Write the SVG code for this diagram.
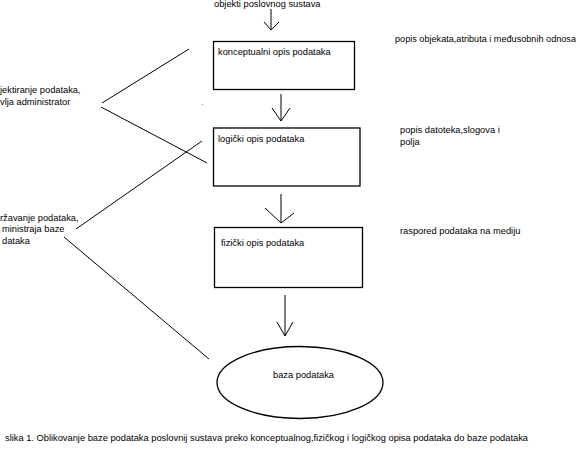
<svg xmlns="http://www.w3.org/2000/svg" width="580" height="464" viewBox="0 0 580 464">
<style>
text{font-family:"Liberation Sans",Arial,sans-serif;font-size:9.3px;fill:#000}
.box{fill:#fff;stroke:#000;stroke-width:1.3}
.ln{stroke:#000;stroke-width:1;fill:none}
</style>
<rect width="580" height="464" fill="#fff"/>
<text x="214" y="6.5">objekti poslovnog sustava</text>
<g id="connectors">
<path class="ln" d="M271 9V30M264 22L271 30L279 22"/>
<path class="ln" d="M281 94V121M272 108L281 121L290 108"/>
<path class="ln" d="M281 194V223M265 208L281 223L294 213"/>
<path class="ln" d="M285 295V336M277 322L285 336L293 322"/>
<path class="ln" d="M189 49L102 103M101 107L207 163"/>
<path class="ln" d="M202 141L76 229M64 237L209 359"/>
</g>
<rect x="202" y="104" width="1" height="1" fill="#888"/>
<g id="konceptualni">
<rect class="box" x="213.5" y="41.5" width="141" height="48"/>
<text x="218" y="55">konceptualni opis podataka</text>
</g>
<g id="logicki">
<rect class="box" x="213.5" y="128" width="146.5" height="58"/>
<text x="218" y="142">logički opis podataka</text>
</g>
<g id="fizicki">
<rect class="box" x="214.5" y="227.5" width="148" height="60"/>
<text x="221" y="246">fizički opis podataka</text>
</g>
<g id="baza">
<ellipse class="box" cx="300" cy="382.5" rx="83" ry="36"/>
<text x="273" y="378">baza podataka</text>
</g>
<text x="395" y="42" textLength="181" lengthAdjust="spacingAndGlyphs">popis objekata,atributa i međusobnih odnosa</text>
<text x="400" y="133">popis datoteka,slogova i</text>
<text x="400" y="145">polja</text>
<text x="400" y="234">raspored podataka na mediju</text>
<text x="0" y="93">jektiranje podataka,</text>
<text x="0" y="105">vlja administrator</text>
<text x="0" y="221">ržavanje podataka,</text>
<text x="2" y="232">ministraja baze</text>
<text x="2" y="244">dataka</text>
<text x="5" y="441">slika 1. Oblikovanje baze podataka poslovnij sustava preko konceptualnog,fizičkog i logičkog opisa podataka do baze podataka</text>
</svg>
